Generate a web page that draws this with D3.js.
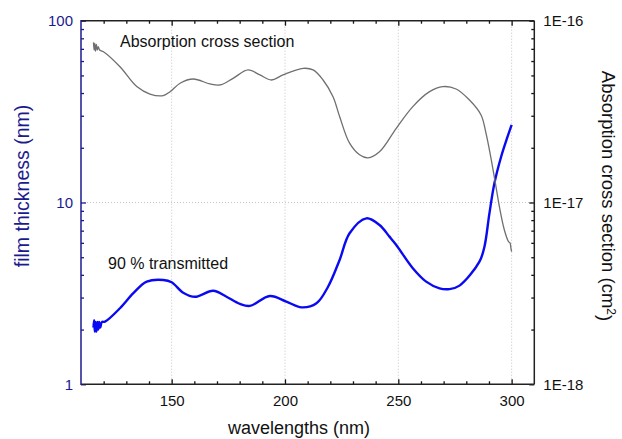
<!DOCTYPE html>
<html>
<head>
<meta charset="utf-8">
<script src="https://cdn.jsdelivr.net/npm/d3@7/dist/d3.min.js"></script>
<style>
  html, body { margin: 0; padding: 0; background: #fff; }
  svg { display: block; font-family: "Liberation Sans", Arial, sans-serif; }
</style>
</head>
<body>
<svg id="chart" width="622" height="439"></svg>
<script>
// Absorption cross section (cm^2) versus wavelength (nm), right axis
const absWavelength = [115.5, 115.8, 116.1, 116.4, 116.8, 117.2, 117.6, 118.2, 119.9, 127.2, 134.6, 140.4,
  146.3, 149.3, 153.7, 159.5, 166.9, 171.3, 177.1, 183.7, 188.9, 194.0, 199.1, 208.0, 212.4, 216.8,
  221.2, 224.1, 228.5, 232.9, 236.6, 241.7, 249.1, 256.4, 263.8, 269.6, 275.5, 281.4, 286.5, 288.7,
  290.9, 293.1, 294.6, 296.8, 298.6, 299.3, 299.7, 300.0];
const absCross = [7.6e-17, 6.9e-17, 7.5e-17, 6.8e-17, 7.4e-17, 6.9e-17, 7.2e-17, 6.9e-17, 6.75e-17, 5.58e-17,
  4.34e-17, 3.95e-17, 3.87e-17, 4.07e-17, 4.53e-17, 4.78e-17, 4.49e-17, 4.43e-17, 4.82e-17, 5.36e-17,
  5.03e-17, 4.72e-17, 5.03e-17, 5.47e-17, 5.36e-17, 4.72e-17, 3.82e-17, 2.97e-17, 2.12e-17, 1.83e-17,
  1.76e-17, 1.90e-17, 2.56e-17, 3.37e-17, 4.07e-17, 4.34e-17, 4.21e-17, 3.66e-17, 3.03e-17, 2.40e-17,
  1.75e-17, 1.22e-17, 9.48e-18, 7.06e-18, 6.1e-18, 6.0e-18, 5.6e-18, 5.36e-18];

// Film thickness (nm) giving 90 % transmission, left axis
const filmWavelength = [115.5, 115.8, 116.1, 116.4, 116.8, 117.2, 117.6, 118.0, 118.5, 119.2, 120.6, 127.2,
  133.1, 139.0, 146.3, 150.0, 155.1, 160.3, 168.3, 174.2, 180.1, 184.5, 193.3, 200.6, 207.3, 213.9,
  219.0, 224.1, 228.5, 235.9, 241.7, 246.1, 249.1, 256.4, 262.3, 268.2, 272.6, 277.0, 285.8, 288.0,
  290.2, 292.4, 295.4, 298.2, 300.0];
const filmThickness = [2.05, 2.25, 1.95, 2.2, 1.95, 2.2, 2.0, 2.2, 2.05, 2.2, 2.21, 2.62,
  3.17, 3.67, 3.75, 3.64, 3.19, 3.03, 3.27, 3.03, 2.77, 2.70, 3.06, 2.85, 2.65, 2.79,
  3.44, 4.83, 6.77, 8.18, 7.52, 6.49, 5.84, 4.35, 3.67, 3.37, 3.34, 3.49, 4.73, 5.71,
  8.72, 12.76, 17.9, 23.0, 26.7];

// Axis ticks and labels
const xMajorTicks = [150, 200, 250, 300];
const xMinorTicks = [120, 130, 140, 160, 170, 180, 190, 210, 220, 230, 240, 260, 270, 280, 290];
const leftTicks = [1, 10, 100];
const leftTickLabels = ["1", "10", "100"];
const rightTicks = [1e-18, 1e-17, 1e-16];
const rightTickLabels = ["1E-18", "1E-17", "1E-16"];

const svg = d3.select("#chart");
const plot = { left: 81, top: 20.7, right: 534.3, bottom: 384.3 };

const x = d3.scaleLinear().domain([110, 310]).range([plot.left, plot.right]);
const yLeft = d3.scaleLog().domain([1, 100]).range([plot.bottom, plot.top]);
const yRight = d3.scaleLog().domain([1e-18, 1e-16]).range([plot.bottom, plot.top]);

const navy = "#1b1b8e";
const gridColor = "#c4c4c4";

// dotted grid
const grid = svg.append("g");
xMajorTicks.forEach(v => {
  grid.append("line")
    .attr("x1", x(v)).attr("x2", x(v))
    .attr("y1", plot.top).attr("y2", plot.bottom)
    .attr("stroke", gridColor).attr("stroke-width", 1).attr("stroke-dasharray", "1,2");
});
grid.append("line")
  .attr("x1", plot.left).attr("x2", plot.right)
  .attr("y1", yLeft(10)).attr("y2", yLeft(10))
  .attr("stroke", gridColor).attr("stroke-width", 1).attr("stroke-dasharray", "1,2");

// curves
const filmLine = d3.line()
  .x((d, i) => x(filmWavelength[i]))
  .y(d => yLeft(d))
  .curve(d3.curveCatmullRom.alpha(0.5));
const absLine = d3.line()
  .x((d, i) => x(absWavelength[i]))
  .y(d => yRight(d))
  .curve(d3.curveCatmullRom.alpha(0.5));

svg.append("path").datum(filmThickness)
  .attr("d", filmLine).attr("fill", "none")
  .attr("stroke", "#0a0af2").attr("stroke-width", 2.4).attr("stroke-linejoin", "round");
svg.append("path").datum(absCross)
  .attr("d", absLine).attr("fill", "none")
  .attr("stroke", "#6f6f6f").attr("stroke-width", 1.3).attr("stroke-linejoin", "round");

// axes, ticks pointing inward
function styleAxis(g, color, fontSize) {
  g.select(".domain").remove();
  g.selectAll(".tick line").attr("stroke", color).attr("stroke-width", 1.3);
  g.selectAll(".tick text").attr("fill", color).style("font-size", fontSize + "px")
    .style("font-family", '"Liberation Sans", Arial, sans-serif');
}

// bottom
svg.append("g").attr("transform", `translate(0,${plot.bottom})`)
  .call(d3.axisBottom(x).tickValues(xMajorTicks).tickSize(-5).tickPadding(11).tickFormat(d3.format("d")))
  .call(g => styleAxis(g, "#111", 15));
svg.append("g").attr("transform", `translate(0,${plot.bottom})`)
  .call(d3.axisBottom(x).tickValues(xMinorTicks).tickSize(-3).tickFormat(""))
  .call(g => styleAxis(g, "#111", 15));
// top
svg.append("g").attr("transform", `translate(0,${plot.top})`)
  .call(d3.axisTop(x).tickValues(xMajorTicks).tickSize(-5).tickFormat(""))
  .call(g => styleAxis(g, "#111", 15));
svg.append("g").attr("transform", `translate(0,${plot.top})`)
  .call(d3.axisTop(x).tickValues(xMinorTicks).tickSize(-3).tickFormat(""))
  .call(g => styleAxis(g, "#111", 15));

// left log axis
const leftMinor = [];
[1, 10].forEach(b => { for (let k = 2; k <= 9; k++) leftMinor.push(k * b); });
svg.append("g").attr("transform", `translate(${plot.left},0)`)
  .call(d3.axisLeft(yLeft).tickValues(leftTicks).tickSize(-5).tickPadding(8)
    .tickFormat((d, i) => leftTickLabels[i]))
  .call(g => styleAxis(g, navy, 15));
svg.append("g").attr("transform", `translate(${plot.left},0)`)
  .call(d3.axisLeft(yLeft).tickValues(leftMinor).tickSize(-3).tickFormat(""))
  .call(g => styleAxis(g, navy, 15));

// right log axis
const rightMinor = [];
[1e-18, 1e-17].forEach(b => { for (let k = 2; k <= 9; k++) rightMinor.push(k * b); });
svg.append("g").attr("transform", `translate(${plot.right},0)`)
  .call(d3.axisRight(yRight).tickValues(rightTicks).tickSize(-5).tickPadding(9)
    .tickFormat((d, i) => rightTickLabels[i]))
  .call(g => styleAxis(g, "#111", 15));
svg.append("g").attr("transform", `translate(${plot.right},0)`)
  .call(d3.axisRight(yRight).tickValues(rightMinor).tickSize(-3).tickFormat(""))
  .call(g => styleAxis(g, "#111", 15));

// frame
const frame = svg.append("g").attr("fill", "none").attr("stroke-width", 1.5);
frame.append("line").attr("x1", plot.left).attr("x2", plot.right)
  .attr("y1", plot.top).attr("y2", plot.top).attr("stroke", "#222");
frame.append("line").attr("x1", plot.left).attr("x2", plot.right)
  .attr("y1", plot.bottom).attr("y2", plot.bottom).attr("stroke", "#222");
frame.append("line").attr("x1", plot.right).attr("x2", plot.right)
  .attr("y1", plot.top).attr("y2", plot.bottom).attr("stroke", "#222");
frame.append("line").attr("x1", plot.left).attr("x2", plot.left)
  .attr("y1", plot.top - 0.75).attr("y2", plot.bottom + 0.75).attr("stroke", navy);

// series labels
svg.append("text").attr("x", 120).attr("y", 46.5)
  .style("font-size", "16px").attr("fill", "#111").text("Absorption cross section");
svg.append("text").attr("x", 108).attr("y", 269)
  .style("font-size", "16px").attr("fill", "#111").text("90 % transmitted");

// axis titles
svg.append("text").attr("x", 299).attr("y", 434)
  .attr("text-anchor", "middle").style("font-size", "18px").attr("fill", "#111")
  .text("wavelengths (nm)");
svg.append("text").attr("transform", "translate(29,186) rotate(-90)")
  .attr("text-anchor", "middle").style("font-size", "19.5px").attr("fill", navy)
  .text("film thickness (nm)");
const rt = svg.append("text").attr("transform", "translate(602,196) rotate(90)")
  .attr("text-anchor", "middle").style("font-size", "18.5px").attr("fill", "#111");
rt.append("tspan").text("Absorption cross section (cm");
rt.append("tspan").attr("dy", "-0.45em").style("font-size", "12px").text("2");
rt.append("tspan").attr("dy", "0.45em").text(")");
</script>
</body>
</html>
